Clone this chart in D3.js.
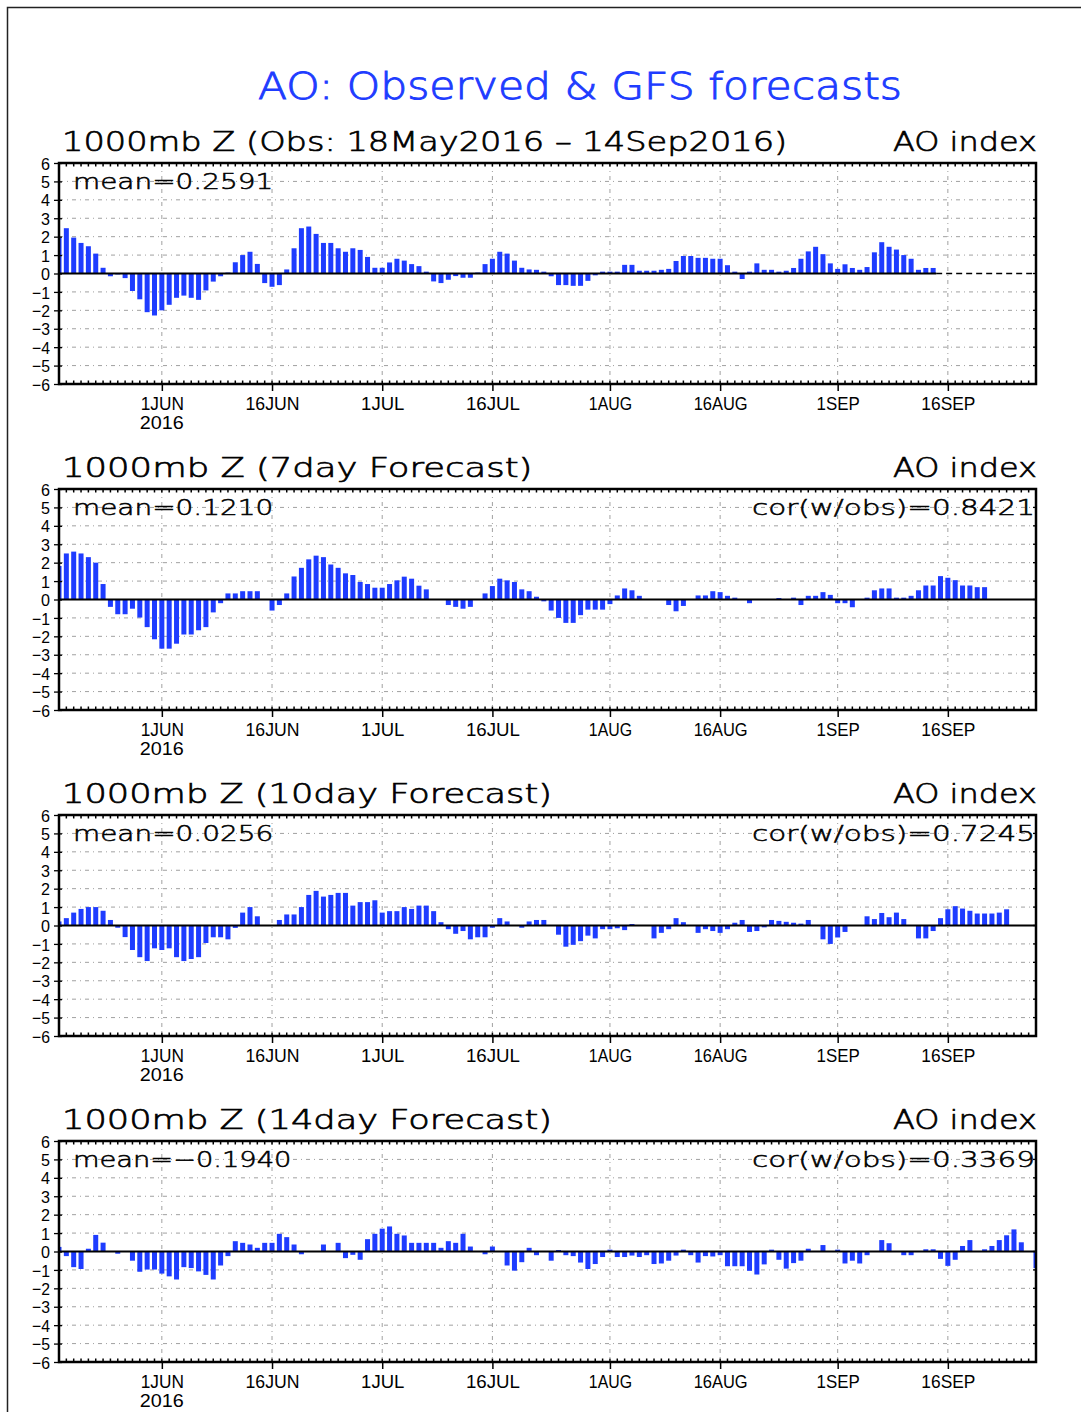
<!DOCTYPE html>
<html>
<head>
<meta charset="utf-8">
<script src="https://cdn.jsdelivr.net/npm/d3@7"></script>
<style>
  body { margin: 0; background: #fff; }
  svg { display: block; font-family: "DejaVu Sans", "Liberation Sans", sans-serif; }
</style>
</head>
<body>
<svg id="chart" width="1081" height="1412"></svg>
<script>
// daily AO index, first value = 18 May 2016
var obsValues = [
  1.95, 2.46, 1.95, 1.66, 1.48, 1.08, 0.31, -0.15, -0.05, -0.25,
  -0.95, -1.4, -2.1, -2.28, -2.0, -1.7, -1.32, -1.2, -1.32, -1.43,
  -0.92, -0.44, -0.15, 0.05, 0.61, 1.0, 1.18, 0.52, -0.52, -0.72,
  -0.63, 0.22, 1.37, 2.46, 2.55, 2.15, 1.66, 1.66, 1.37, 1.18,
  1.37, 1.28, 0.9, 0.31, 0.31, 0.6, 0.8, 0.7, 0.51, 0.4,
  0.1, -0.43, -0.52, -0.34, -0.14, -0.23, -0.23, 0.05, 0.51, 0.8,
  1.18, 1.08, 0.7, 0.31, 0.22, 0.2, 0.1, -0.15, -0.63, -0.63,
  -0.67, -0.67, -0.4, -0.1, 0.1, 0.1, 0.1, 0.47, 0.47, 0.15,
  0.15, 0.15, 0.2, 0.25, 0.68, 0.95, 0.95, 0.85, 0.85, 0.8,
  0.8, 0.45, 0.1, -0.3, 0.1, 0.55, 0.2, 0.2, 0.1, 0.15,
  0.3, 0.8, 1.2, 1.45, 1.05, 0.55, 0.25, 0.5, 0.3, 0.2,
  0.35, 1.15, 1.7, 1.45, 1.3, 1.0, 0.8, 0.2, 0.3, 0.3
];
var fc7Values = [
  1.82, 2.5, 2.6, 2.5, 2.3, 2.0, 0.84, -0.4, -0.8, -0.8,
  -0.5, -0.98, -1.5, -2.16, -2.67, -2.67, -2.4, -1.9, -1.9, -1.67,
  -1.5, -0.7, -0.2, 0.33, 0.33, 0.45, 0.45, 0.45, 0, -0.6,
  -0.3, 0.33, 1.25, 1.72, 2.18, 2.38, 2.3, 1.9, 1.72, 1.42,
  1.33, 0.95, 0.84, 0.64, 0.64, 0.84, 1.04, 1.24, 1.13, 0.75,
  0.55, 0, 0, -0.3, -0.4, -0.5, -0.4, 0, 0.33, 0.73,
  1.13, 1.04, 0.95, 0.55, 0.45, 0.15, -0.1, -0.6, -1.0, -1.27,
  -1.27, -0.85, -0.55, -0.55, -0.55, -0.25, 0.22, 0.6, 0.5, 0.2,
  0, 0, 0, -0.3, -0.64, -0.35, 0, 0.22, 0.22, 0.45,
  0.4, 0.2, 0.1, 0, -0.2, 0, 0, 0, 0.08, 0,
  0.1, -0.3, 0.2, 0.2, 0.4, 0.25, -0.2, -0.2, -0.42, 0,
  0.1, 0.5, 0.6, 0.6, 0.1, 0.1, 0.2, 0.5, 0.76, 0.76,
  1.27, 1.18, 1.05, 0.76, 0.76, 0.67, 0.67
];
var fc10Values = [
  0.22, 0.4, 0.7, 0.9, 1.0, 1.0, 0.8, 0.3, -0.12, -0.63,
  -1.33, -1.72, -1.93, -1.24, -1.33, -1.24, -1.72, -1.93, -1.82, -1.72,
  -0.95, -0.64, -0.64, -0.75, -0.13, 0.7, 1.0, 0.5, 0, 0,
  0.3, 0.6, 0.6, 1.0, 1.66, 1.88, 1.57, 1.66, 1.77, 1.77,
  1.08, 1.27, 1.27, 1.37, 0.7, 0.78, 0.78, 1.0, 0.9, 1.08,
  1.08, 0.78, 0.18, -0.2, -0.45, -0.3, -0.75, -0.64, -0.64, -0.12,
  0.4, 0.22, 0, -0.12, 0.22, 0.3, 0.3, 0, -0.5, -1.15,
  -1.05, -0.85, -0.55, -0.7, -0.2, -0.2, -0.15, -0.25, 0.08, 0,
  0, -0.7, -0.4, -0.2, 0.4, 0.18, 0, -0.4, -0.2, -0.3,
  -0.4, -0.2, 0.15, 0.3, -0.35, -0.3, -0.1, 0.3, 0.25, 0.2,
  0.15, 0.1, 0.3, 0, -0.75, -1.0, -0.65, -0.35, 0, 0,
  0.5, 0.35, 0.68, 0.45, 0.7, 0.35, 0, -0.7, -0.7, -0.3,
  0.4, 0.88, 1.05, 0.92, 0.8, 0.65, 0.65, 0.65, 0.7, 0.88
];
var fc14Values = [
  0.25, -0.25, -0.85, -0.95, 0.15, 0.9, 0.48, 0, -0.12, 0,
  -0.5, -1.1, -0.98, -0.98, -1.2, -1.35, -1.52, -0.85, -0.9, -1.08,
  -1.27, -1.52, -0.76, -0.25, 0.56, 0.47, 0.38, 0.2, 0.47, 0.47,
  0.96, 0.78, 0.38, -0.15, 0, 0, 0.38, 0, 0.47, -0.36,
  -0.18, -0.45, 0.67, 0.96, 1.24, 1.36, 0.96, 0.87, 0.47, 0.47,
  0.47, 0.47, 0.2, 0.56, 0.47, 0.96, 0.27, 0, -0.15, 0.27,
  0, -0.76, -1.04, -0.58, 0.2, -0.2, 0, -0.5, 0.08, -0.2,
  -0.25, -0.6, -0.95, -0.68, -0.3, 0.1, -0.3, -0.3, -0.22, -0.3,
  -0.2, -0.68, -0.65, -0.5, -0.22, 0.1, -0.2, -0.6, -0.25, -0.27,
  -0.2, -0.8, -0.8, -0.8, -1.05, -1.25, -0.7, 0.1, -0.45, -0.93,
  -0.63, -0.5, 0.15, 0, 0.35, 0, 0.1, -0.65, -0.5, -0.65,
  -0.2, 0, 0.62, 0.45, 0, -0.2, -0.2, 0, 0.12, 0.12,
  -0.4, -0.78, -0.45, 0.3, 0.62, 0, 0.12, 0.3, 0.62, 0.88,
  1.2, 0.5, 0, -0.9
];

var panelTitles = ["1000mb Z (Obs: 18May2016 \u2013 14Sep2016)", "1000mb Z (7day Forecast)",
                   "1000mb Z (10day Forecast)", "1000mb Z (14day Forecast)"];
var meanLabels = ["mean=0.2591", "mean=0.1210", "mean=0.0256", "mean=\u22120.1940"];
var corLabels = [null, "cor(w/obs)=0.8421", "cor(w/obs)=0.7245", "cor(w/obs)=0.3369"];
var tickDates = ["2016-06-01", "2016-06-16", "2016-07-01", "2016-07-16",
                 "2016-08-01", "2016-08-16", "2016-09-01", "2016-09-16"];
var yTicks = [-6, -5, -4, -3, -2, -1, 0, 1, 2, 3, 4, 5, 6];

var blue = "rgb(30,60,255)";
var grid = "#a0a0a0";
var svg = d3.select("#chart");

var parse = d3.utcParse("%Y-%m-%d");
var startDay = parse("2016-05-18"), endDay = parse("2016-09-28");

var left = 59, right = 1036, ph = 221;
var panelTops = [163, 489, 815, 1141];

var x = d3.scaleUtc().domain([startDay, endDay]).range([left, right]);
var days = d3.utcDay.range(startDay, d3.utcDay.offset(endDay, 1));

// thin, wide lettering like the plotting program's stroke font
function label(sel, size, width, color) {
  return sel.attr("font-size", size).attr("font-weight", 200)
    .attr("fill", color).attr("stroke", color).attr("stroke-width", size / 40)
    .attr("textLength", width).attr("lengthAdjust", "spacingAndGlyphs");
}

// outer frame
svg.append("rect").attr("x", 7.5).attr("y", 7.5).attr("width", 1100).attr("height", 1420)
  .attr("fill", "none").attr("stroke", "#222").attr("stroke-width", 1.5);

label(svg.append("text").attr("x", 258).attr("y", 99), 38, 644, blue)
  .text("AO: Observed & GFS forecasts");

var series = [obsValues, fc7Values, fc10Values, fc14Values];

series.forEach(function(vals, p) {
  var top = panelTops[p];
  var y = d3.scaleLinear().domain([-6, 6]).range([top + ph, top]);
  var g = svg.append("g");

  g.append("clipPath").attr("id", "clip" + p)
    .append("rect").attr("x", left).attr("y", top).attr("width", right - left).attr("height", ph);

  // grid
  g.selectAll(".hg").data(yTicks.filter(function(d) { return d != 0 && Math.abs(d) < 6; }))
    .enter().append("line")
    .attr("x1", left).attr("x2", right)
    .attr("y1", function(d) { return y(d); }).attr("y2", function(d) { return y(d); })
    .attr("stroke", grid).attr("stroke-width", 1).attr("stroke-dasharray", "4,4,1,4");
  g.selectAll(".vg").data(tickDates.map(parse))
    .enter().append("line")
    .attr("x1", function(d) { return x(d); }).attr("x2", function(d) { return x(d); })
    .attr("y1", top).attr("y2", top + ph)
    .attr("stroke", grid).attr("stroke-width", 1).attr("stroke-dasharray", "4,4,1,4");

  // bars
  var data = vals.map(function(v, i) { return {date: days[i], value: v}; });
  g.append("g").attr("clip-path", "url(#clip" + p + ")")
    .selectAll("rect").data(data).enter().append("rect")
    .attr("x", function(d) { return x(d.date) - 2.5; })
    .attr("width", 5)
    .attr("y", function(d) { return y(Math.max(0, d.value)); })
    .attr("height", function(d) { return Math.abs(y(d.value) - y(0)); })
    .attr("fill", blue);

  // zero line
  if (p == 0) {
    var lastX = x(days[vals.length - 1]) + 3;
    g.append("line").attr("x1", left).attr("x2", lastX).attr("y1", y(0)).attr("y2", y(0))
      .attr("stroke", "#000").attr("stroke-width", 2);
    g.append("line").attr("x1", lastX).attr("x2", right).attr("y1", y(0)).attr("y2", y(0))
      .attr("stroke", "#000").attr("stroke-width", 1.3).attr("stroke-dasharray", "6,4");
  } else {
    g.append("line").attr("x1", left).attr("x2", right).attr("y1", y(0)).attr("y2", y(0))
      .attr("stroke", "#000").attr("stroke-width", 2);
  }

  // day ticks along top and bottom edges
  g.selectAll(".dt").data(days).enter().append("line")
    .attr("x1", function(d) { return x(d); }).attr("x2", function(d) { return x(d); })
    .attr("y1", top).attr("y2", top + 3.5)
    .attr("stroke", "#000").attr("stroke-width", 1.5);
  g.selectAll(".db").data(days).enter().append("line")
    .attr("x1", function(d) { return x(d); }).attr("x2", function(d) { return x(d); })
    .attr("y1", top + ph - 3.5).attr("y2", top + ph)
    .attr("stroke", "#000").attr("stroke-width", 1.5);
  // inner ticks on right edge
  g.selectAll(".rt").data(yTicks).enter().append("line")
    .attr("x1", right - 3).attr("x2", right)
    .attr("y1", function(d) { return y(d); }).attr("y2", function(d) { return y(d); })
    .attr("stroke", "#000").attr("stroke-width", 1.3);

  // frame
  g.append("rect").attr("x", left).attr("y", top).attr("width", right - left).attr("height", ph)
    .attr("fill", "none").attr("stroke", "#000").attr("stroke-width", 2.5);

  // y axis
  var ya = g.append("g").attr("transform", "translate(" + left + ",0)")
    .call(d3.axisLeft(y).tickValues(yTicks).tickSize(5).tickPadding(4)
      .tickFormat(function(d) { return d < 0 ? "\u2212" + (-d) : d; }));
  ya.select(".domain").remove();
  ya.selectAll(".tick line").attr("x2", -5).attr("x1", 3).attr("stroke-width", 1.3);
  ya.selectAll(".tick text").attr("font-family", "Liberation Sans, sans-serif")
    .attr("font-size", 17).attr("fill", "#000").attr("dy", "0.36em")
    .attr("textLength", function() { return this.textContent.length * 9; })
    .attr("lengthAdjust", "spacingAndGlyphs");

  // x axis
  var xa = g.append("g").attr("transform", "translate(0," + (top + ph) + ")")
    .call(d3.axisBottom(x).tickValues(tickDates.map(parse)).tickSize(7).tickPadding(6)
      .tickFormat(function(d) { return d3.utcFormat("%-d%b")(d).toUpperCase(); }));
  xa.select(".domain").remove();
  xa.selectAll(".tick line").attr("stroke-width", 1.5);
  xa.selectAll(".tick text").attr("font-family", "Liberation Sans, sans-serif")
    .attr("font-size", 19).attr("fill", "#000").attr("dy", "0.71em")
    .attr("textLength", function() { return this.textContent.length * 10.8; })
    .attr("lengthAdjust", "spacingAndGlyphs");
  g.append("text").attr("x", x(parse(tickDates[0]))).attr("y", top + ph + 45)
    .attr("text-anchor", "middle").attr("font-size", 19)
    .attr("font-family", "Liberation Sans, sans-serif")
    .attr("textLength", 44).attr("lengthAdjust", "spacingAndGlyphs")
    .text("2016");

  // titles
  label(g.append("text").attr("x", 62).attr("y", top - 12), 27, panelTitles[p].length * 19.6, "#000")
    .text(panelTitles[p]);
  label(g.append("text").attr("x", 1037).attr("y", top - 12).attr("text-anchor", "end"), 27, 144, "#000")
    .text("AO index");
  label(g.append("text").attr("x", 73).attr("y", top + 26), 22, meanLabels[p].length * 18.2, "#000")
    .text(meanLabels[p]);
  if (corLabels[p]) {
    label(g.append("text").attr("x", 1035).attr("y", top + 26).attr("text-anchor", "end"), 22, 283, "#000")
      .text(corLabels[p]);
  }
});
</script>
</body>
</html>
